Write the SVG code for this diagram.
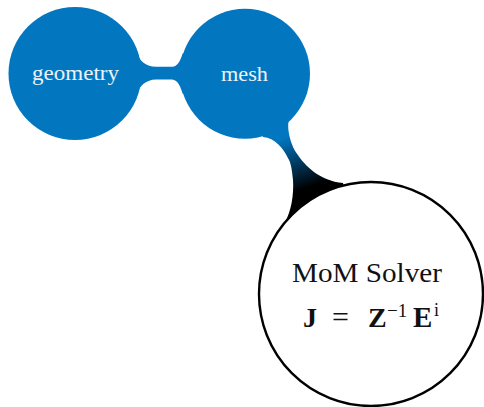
<svg xmlns="http://www.w3.org/2000/svg" width="484" height="407" viewBox="0 0 484 407">
  <style>
    .blue { fill: #0277c0; }
    .lbl { font-family: "Liberation Serif", "DejaVu Serif", serif; fill: #eef3f9; font-size: 21px; text-anchor: middle; }
    .blk { font-family: "Liberation Serif", "DejaVu Serif", serif; fill: #111111; }
    .bold { font-weight: bold; }
  </style>
  <defs>
    <linearGradient id="g2s" gradientUnits="userSpaceOnUse" x1="283" y1="138" x2="302" y2="190">
      <stop offset="0" stop-color="#0277c0"/>
      <stop offset="0.4" stop-color="#004877"/>
      <stop offset="1" stop-color="#000000"/>
    </linearGradient>
  </defs>
  <g id="connectors">
    <path class="blue" d="M 138,55 C 139.7,60.8 146,66.8 156,66.8 L 172,66.8 C 178,66.8 181,59 182.7,53.3 L 245,73.5 L 182.7,93.7 C 181,88 178,79.4 172,79.4 L 156,79.4 C 146,79.4 139.7,86 138,92 L 75,73.5 Z"/>
    <path fill="url(#g2s)" d="M 290,118 C 286,123 289,142 296.8,153.5 C 305,166 320,181 343,183 L 371,294 L 285,222 C 291,212 294,195 293,180 C 292,170 291,163 288.2,158.5 C 283,148 275,138 263,137 L 245,73.5 Z"/>
  </g>
  <g id="geometry">
    <circle class="blue" cx="75" cy="73.5" r="66.5"/>
    <text class="lbl" x="75.5" y="80" textLength="87" lengthAdjust="spacingAndGlyphs">geometry</text>
  </g>
  <g id="mesh">
    <circle class="blue" cx="245" cy="73.7" r="65"/>
    <text class="lbl" x="244.5" y="81" textLength="47" lengthAdjust="spacingAndGlyphs">mesh</text>
  </g>
  <g id="solver">
    <circle cx="371" cy="294" r="112" fill="#ffffff" stroke="#000000" stroke-width="2.4"/>
    <text class="blk" x="367" y="282" font-size="28" text-anchor="middle" textLength="150" lengthAdjust="spacingAndGlyphs">MoM Solver</text>
    <text class="blk bold" x="303" y="327" font-size="28">J</text>
    <text class="blk" x="332" y="327" font-size="30">=</text>
    <text class="blk bold" x="368" y="327" font-size="28">Z</text>
    <text class="blk" x="387" y="317" font-size="19">−1</text>
    <text class="blk bold" x="413" y="327" font-size="29">E</text>
    <text class="blk" x="434" y="316" font-size="18">i</text>
  </g>
</svg>
